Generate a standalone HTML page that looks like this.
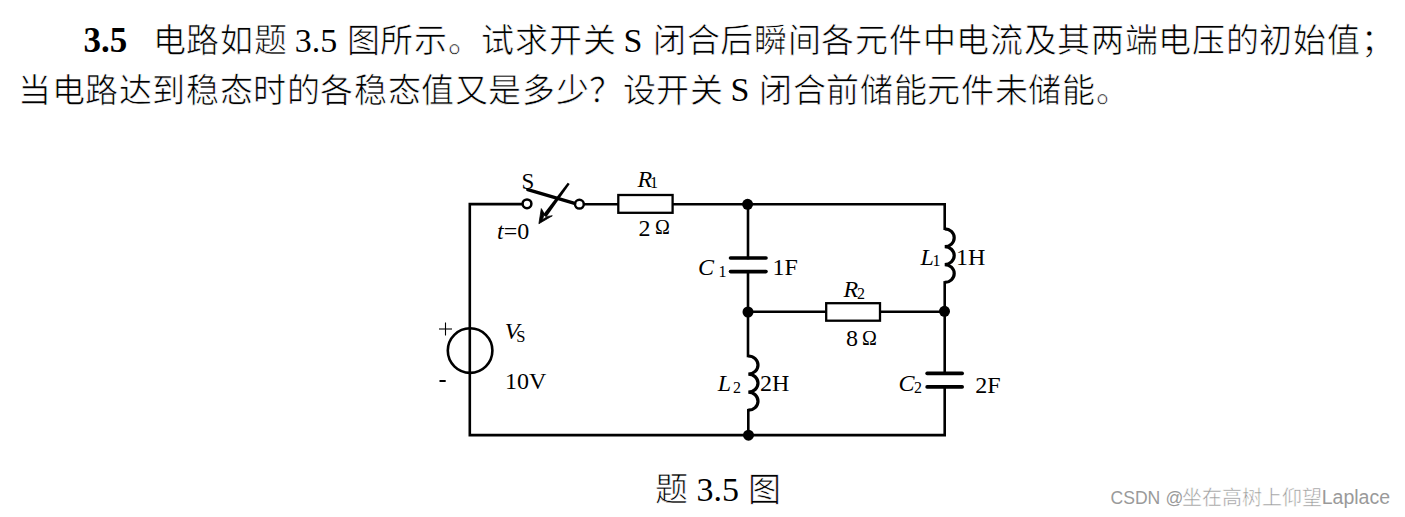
<!DOCTYPE html>
<html lang="zh-CN">
<head>
<meta charset="utf-8">
<style>
html,body{margin:0;padding:0;background:#fff;width:1405px;height:517px;overflow:hidden}
svg{position:absolute;left:0;top:0;display:block}
text{font-family:"Liberation Serif",serif;fill:#000}
.cj{font-size:33.0px;stroke:#fff;stroke-width:0.65px}
.lt{font-size:34px}
.v{font-size:24px}
.i{font-style:italic}
.s{font-size:16px}
.wmc{font-family:"Liberation Sans",sans-serif;font-size:20px;fill:#9a9a9a;stroke:#fff;stroke-width:0.5px}
.wm{font-family:"Liberation Sans",sans-serif;font-size:19px;fill:#9a9a9a}
</style>
</head>
<body>
<svg width="1405" height="517" viewBox="0 0 1405 517">
<text x="83.5" y="52.3" font-weight="bold" style="font-size:35px">3.5</text>
<text class="cj" x="152.5 186.2 219.9 253.7" y="51.9">电路如题</text>
<text class="lt" x="294.7" y="51.9">3.5</text>
<text class="cj" x="346.6 380.2 414.0 447.7 481.4 515.1 548.8 582.5" y="51.9">图所示。试求开关</text>
<text class="lt" x="623.4" y="51.5">S</text>
<text class="cj" x="652.9 686.6 720.2 754.0 787.6 821.4 855.1 888.8 922.5 956.1 989.9 1023.6 1057.2 1090.9 1124.7 1158.3 1192.0 1225.8 1259.4 1293.2 1326.8 1360.5" y="51.9">闭合后瞬间各元件中电流及其两端电压的初始值；</text>
<text class="cj" x="17.9 51.5 85.1 118.7 152.3 185.9 219.5 253.1 286.7 320.3 353.9 387.5 421.1 454.7 488.3 521.9 555.5 589.1 622.7 656.3 689.9" y="101.9">当电路达到稳态时的各稳态值又是多少？设开关</text>
<text class="lt" x="730.5" y="101.3">S</text>
<text class="cj" x="758.9 792.6 826.2 860.0 893.6 927.4 961.1 994.8 1028.4 1062.1 1095.8" y="101.9">闭合前储能元件未储能。</text>
<text class="cj" x="655.3" y="501.3">题</text>
<text class="lt" x="696.6" y="501.4">3.5</text>
<text class="cj" x="748.0" y="501.3">图</text>

<g fill="none" stroke="#000" stroke-width="2.6" stroke-linecap="square">
  <path d="M527,204.1 H469.8 V435.1 H944.7 V386.9"/>
  <path d="M944.7,373.4 V282.4"/>
  <path d="M944.7,228.8 V204.2 H579.4"/>
  <path d="M748,204.2 V258"/>
  <path d="M748,271.6 V356"/>
  <path d="M748.3,410.2 V435.1"/>
  <path d="M748,311.8 H944.7"/>
</g>
<rect x="618.3" y="195" width="54.3" height="17.8" fill="#fff" stroke="#000" stroke-width="2.3"/>
<rect x="826.2" y="303.2" width="53.8" height="17.5" fill="#fff" stroke="#000" stroke-width="2.3"/>
<circle cx="527" cy="203.8" r="4.4" fill="#fff" stroke="#000" stroke-width="2.5"/>
<circle cx="579.4" cy="204.2" r="4.4" fill="#fff" stroke="#000" stroke-width="2.5"/>
<line x1="527.8" y1="189.7" x2="574.6" y2="203.3" stroke="#000" stroke-width="3.4" stroke-linecap="round"/>
<path d="M567.7,182.7 L569.7,184.1 L546.2,217.2 L543,214.8 Z" fill="#000"/>
<path d="M538.9,223.7 L541.3,208.6 L544.2,213.6 L542.6,219.6 L547.6,216.4 L552.3,215.8 Z" fill="#000" stroke="#000" stroke-width="0.8" stroke-linejoin="round"/>
<g stroke="#000" stroke-width="3.6" stroke-linecap="round">
  <line x1="730.5" y1="258" x2="766" y2="258"/>
  <line x1="730.5" y1="271.6" x2="766" y2="271.6"/>
  <line x1="927.1" y1="373.4" x2="962.2" y2="373.4"/>
  <line x1="927.1" y1="386.9" x2="962.2" y2="386.9"/>
</g>
<g fill="none" stroke="#000" stroke-width="3.2">
  <path d="M944.7,228.8 a9.5,8.93 0 0 1 0,17.87 a9.5,8.93 0 0 1 0,17.87 a9.5,8.93 0 0 1 0,17.87"/>
  <path d="M748.3,356 a9.7,9.03 0 0 1 0,18.07 a9.7,9.03 0 0 1 0,18.07 a9.7,9.03 0 0 1 0,18.07"/>
</g>
<circle cx="470.1" cy="350.6" r="22.3" fill="none" stroke="#000" stroke-width="2.6"/>
<g stroke="#000" stroke-width="1.1">
  <line x1="439" y1="329" x2="452" y2="329"/>
  <line x1="445.5" y1="322.5" x2="445.5" y2="335.5"/>
</g>
<line x1="439.5" y1="381" x2="445.7" y2="381" stroke="#000" stroke-width="2"/>
<g fill="#000">
  <circle cx="747.6" cy="204.3" r="5.5"/>
  <circle cx="748" cy="312" r="5.5"/>
  <circle cx="944.5" cy="311.3" r="5.5"/>
  <circle cx="748.5" cy="435.2" r="5.5"/>
</g>
<text x="521.4" y="189" style="font-size:23px">S</text>
<text class="v" x="497" y="238.6"><tspan class="i">t</tspan>=0</text>
<text class="v i" x="637.5" y="187">R</text><text class="s" x="649.9" y="188.4">1</text>
<text class="v" x="638.5" y="236.3">2</text><text x="655" y="234" style="font-size:20px">Ω</text>
<text class="v i" x="698" y="275.3">C</text><text class="s" x="718.6" y="277.4">1</text>
<text class="v" x="772.6" y="274.9">1F</text>
<text class="v i" x="920.6" y="264.5">L</text><text class="s" x="932.4" y="266.4">1</text>
<text class="v" x="955.9" y="264.5">1H</text>
<text class="v i" x="843.6" y="297">R</text><text class="s" x="857" y="298.8">2</text>
<text class="v" x="846.1" y="346.1">8</text><text x="862" y="344.5" style="font-size:20px">Ω</text>
<text class="v i" x="504.8" y="339.4">V</text><text x="516.2" y="342" style="font-size:16.5px">S</text>
<text class="v" x="505.1" y="388.7">10V</text>
<text class="v i" x="717.7" y="391">L</text><text class="s" x="732.9" y="392.8">2</text>
<text class="v" x="760" y="391">2H</text>
<text class="v i" x="898.4" y="391.3">C</text><text class="s" x="914.1" y="393.2">2</text>
<text class="v" x="975.3" y="392.7">2F</text>
<text class="wm" transform="translate(1110.5,504) scale(0.926,1)" x="0" y="0">CSDN</text>
<text class="wm" transform="translate(1165.5,504) scale(0.926,1)" x="0" y="0">@</text>
<text class="wmc" x="1181.5 1201.6 1221.6 1241.7 1261.7 1281.8 1301.8" y="504.7">坐在高树上仰望</text>
<text class="wm" x="1321.7" y="504" style="font-size:19.5px">Laplace</text>

</svg>
</body>
</html>
